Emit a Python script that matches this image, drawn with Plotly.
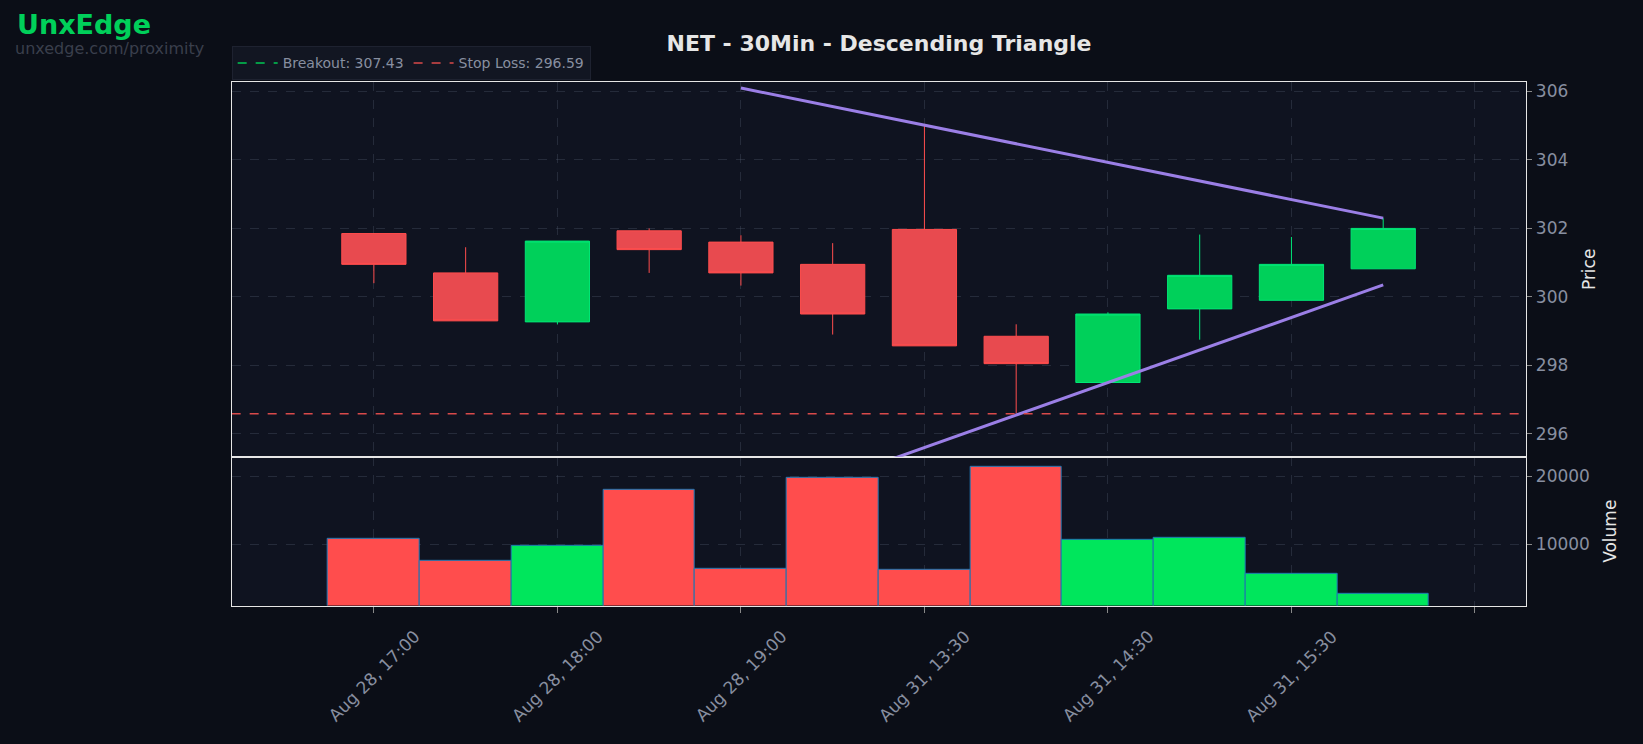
import plotly.graph_objects as go

labels = ["Aug 28, 17:00","Aug 28, 17:30","Aug 28, 18:00","Aug 28, 18:30","Aug 28, 19:00","Aug 28, 19:30",
          "Aug 31, 13:30","Aug 31, 14:00","Aug 31, 14:30","Aug 31, 15:00","Aug 31, 15:30","Aug 31, 16:00"]
opens  = [301.85,300.70,299.27,301.93,301.60,300.95,301.97,298.85,297.50,299.65,299.90,300.82]
highs  = [301.85,301.45,301.63,302.00,301.80,301.57,305.05,299.20,299.55,301.82,301.75,302.30]
lows   = [300.40,299.30,299.20,300.70,300.33,298.90,298.57,296.60,297.50,298.75,299.90,300.82]
closes = [300.95,299.30,301.63,301.38,300.70,299.50,298.57,298.05,299.50,300.63,300.95,302.00]
volumes = [10800,7600,9800,18100,6450,19850,6300,21450,10650,10970,5650,2740]
tick_idx = [0,2,4,6,8,10,12]
tick_text = ["Aug 28, 17:00","Aug 28, 18:00","Aug 28, 19:00","Aug 31, 13:30","Aug 31, 14:30","Aug 31, 15:30",""]
upper_x, upper_y = [4,11],[306.1,302.3]
lower_x, lower_y = [4,11],[293.7,300.35]
breakout, stop_loss = 307.43, 296.59

x = list(range(len(labels)))
RED, GREEN = "#e84a4f", "#00d05a"
fig = go.Figure()
fig.add_trace(go.Candlestick(x=x, open=opens, high=highs, low=lows, close=closes,
    increasing=dict(line=dict(color="#00e676", width=1), fillcolor=GREEN),
    decreasing=dict(line=dict(color="#ff4d4d", width=1), fillcolor=RED),
    whiskerwidth=0, showlegend=False, xaxis="x2", yaxis="y2", hoverinfo="skip"))
fig.add_trace(go.Scatter(x=upper_x, y=upper_y, mode="lines", line=dict(color="#9b7fe6", width=3),
    showlegend=False, xaxis="x2", yaxis="y2"))
fig.add_trace(go.Scatter(x=lower_x, y=lower_y, mode="lines", line=dict(color="#9b7fe6", width=3),
    showlegend=False, xaxis="x2", yaxis="y2"))
fig.add_trace(go.Scatter(x=[-1.55,12.56], y=[breakout]*2, mode="lines", name=f"Breakout: {breakout:.2f}",
    line=dict(color="#00c853", width=1.5, dash="dash"), xaxis="x2", yaxis="y2"))
fig.add_trace(go.Scatter(x=[-1.55,12.56], y=[stop_loss]*2, mode="lines", name=f"Stop Loss: {stop_loss:.2f}",
    line=dict(color="#d94a4a", width=1.5, dash="dash"), xaxis="x2", yaxis="y2"))
fig.add_trace(go.Bar(x=x, y=volumes, width=1,
    marker=dict(color=["#00e65c" if c >= o else "#ff4d4d" for o, c in zip(opens, closes)],
                line=dict(color="#1f77b4", width=1)),
    showlegend=False, xaxis="x", yaxis="y"))

grid = "rgba(80,90,110,0.35)"
common = dict(showgrid=True, gridcolor=grid, griddash="dash", zeroline=False, showline=True,
              linecolor="#e6e6e6", linewidth=1.2, mirror=True)
XD = [0.141, 0.929]
fig.update_layout(
    width=1643, height=744, paper_bgcolor="#0b0e17", plot_bgcolor="#0f1320",
    margin=dict(l=0, r=0, t=0, b=0), font=dict(family="DejaVu Sans", color="#888fa0"),
    title=dict(text="<b>NET - 30Min - Descending Triangle</b>", x=0.535, xanchor="center", y=0.942,
               yanchor="middle", font=dict(size=22, color="#e6e6e6")),
    xaxis=dict(domain=XD, range=[-1.55,12.56], tickvals=tick_idx, showticklabels=False,
               ticks="outside", tickcolor="#888", ticklen=6, **common),
    xaxis2=dict(domain=XD, range=[-1.55,12.56], tickvals=tick_idx, showticklabels=False,
                anchor="y2", matches="x", rangeslider=dict(visible=False), **common),
    yaxis=dict(domain=[0.186,0.386], range=[1000,22900], side="right", tickvals=[10000,20000],
               tickformat="d",
               title=dict(text="Volume", font=dict(size=17, color="#e6e6e6")), tickfont=dict(size=17),
               ticks="outside", tickcolor="#888", **common),
    yaxis2=dict(domain=[0.386,0.890], range=[295.33,306.28], side="right", dtick=2, anchor="x2",
                title=dict(text="Price", font=dict(size=17, color="#e6e6e6")), tickfont=dict(size=17),
                ticks="outside", tickcolor="#888", **common),
    legend=dict(orientation="h", x=XD[0], xanchor="left", y=0.892, yanchor="bottom",
                bgcolor="#121622", bordercolor="#1e2230", borderwidth=1, itemwidth=40,
                font=dict(size=14, color="#888fa0")),
    bargap=0, boxgap=0.0, showlegend=True,
)
for t, lab in zip(tick_idx, tick_text):
    if lab:
        fig.add_annotation(text=lab, x=t, xref="x", y=0.092, yref="paper", textangle=-45,
                           xanchor="center", yanchor="middle", showarrow=False,
                           font=dict(size=17, color="#888fa0"))
fig.add_annotation(text="<b>UnxEdge</b>", xref="paper", yref="paper", x=0.009, y=0.99, xanchor="left",
                   yanchor="top", showarrow=False, font=dict(size=27, color="#00d05a"))
fig.add_annotation(text="unxedge.com/proximity", xref="paper", yref="paper", x=0.008, y=0.95, xanchor="left",
                   yanchor="top", showarrow=False, font=dict(size=16, color="#3a3f4c"))
fig.write_html("out.html", config={"displayModeBar": False})
with open("out.html") as f:
    s = f.read()
s = s.replace("<body>", '<body style="margin:0;overflow:hidden;background:#0b0e17">', 1)
with open("out.html", "w") as f:
    f.write(s)
